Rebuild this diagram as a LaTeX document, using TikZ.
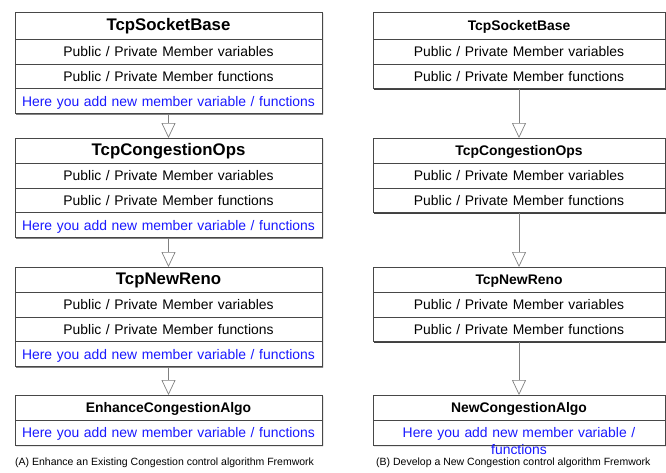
\documentclass[tikz,border=0pt]{standalone}
\usepackage{fontspec}
\setmainfont{Liberation Sans}
\usetikzlibrary{positioning, shapes.multipart, arrows.meta, shadows}
\definecolor{rowline}{rgb}{0.28,0.28,0.28}
\definecolor{addblue}{rgb}{0.1,0.1,1.0}
\newcommand{\hdstrut}{\rule[-8pt]{0pt}{26pt}}
\newcommand{\rwstrut}{\rule[-7pt]{0pt}{24pt}}

\begin{document}
\begin{tikzpicture}[
    x=1pt, y=-1pt,
    cls/.style={
        rectangle split,
        rectangle split parts=4,
        draw=rowline,
        line width=0.8pt,
        fill=white,
        drop shadow={shadow xshift=1pt, shadow yshift=-1pt, fill=black!75, opacity=1},
        inner xsep=0pt, inner ysep=0pt,
        align=center,
        anchor=north,
        font=\fontsize{13.9}{16.5}\selectfont,
        text width=307pt,
    },
    clsb/.style={cls, rectangle split parts=3, text width=292pt},
    inh/.style={-{Triangle[open, length=15pt, width=14pt]}, draw=black!50, line width=0.7pt},
    caption/.style={anchor=west, inner sep=0pt, font=\fontsize{10.5}{12}\selectfont}
]
\useasboundingbox (0,0) rectangle (666,472);

% (A) left column: extend an existing algorithm
\node[cls] (SockA) at (168.5,12) {%
  \hdstrut{\fontsize{16.8}{19}\selectfont\bfseries TcpSocketBase}\nodepart{second}%
  \rwstrut Public / Private Member variables\nodepart{third}%
  \rwstrut Public / Private Member functions\nodepart{fourth}%
  \rwstrut\textcolor{addblue}{Here you add new member variable / functions}%
};
\node[cls] (OpsA) at (168.5,138) {%
  \rwstrut{\fontsize{16.8}{19}\selectfont\bfseries TcpCongestionOps}\nodepart{second}%
  \rwstrut Public / Private Member variables\nodepart{third}%
  \rwstrut Public / Private Member functions\nodepart{fourth}%
  \rwstrut\textcolor{addblue}{Here you add new member variable / functions}%
};
\node[cls] (RenoA) at (168.5,267) {%
  \rwstrut{\fontsize{16.8}{19}\selectfont\bfseries TcpNewReno}\nodepart{second}%
  \rwstrut Public / Private Member variables\nodepart{third}%
  \rwstrut Public / Private Member functions\nodepart{fourth}%
  \rwstrut\textcolor{addblue}{Here you add new member variable / functions}%
};
\node[cls, rectangle split parts=2] (EnhA) at (168.5,395) {%
  \rwstrut\textbf{EnhanceCongestionAlgo}\nodepart{second}%
  \rwstrut\textcolor{addblue}{Here you add new member variable / functions}%
};

% (B) right column: a new algorithm
\node[clsb] (SockB) at (519,12) {%
  \hdstrut\textbf{TcpSocketBase}\nodepart{second}%
  \rwstrut Public / Private Member variables\nodepart{third}%
  \rwstrut Public / Private Member functions%
};
\node[clsb] (OpsB) at (519,138) {%
  \rwstrut\textbf{TcpCongestionOps}\nodepart{second}%
  \rwstrut Public / Private Member variables\nodepart{third}%
  \rwstrut Public / Private Member functions%
};
\node[clsb] (RenoB) at (519,267) {%
  \rwstrut\textbf{TcpNewReno}\nodepart{second}%
  \rwstrut Public / Private Member variables\nodepart{third}%
  \rwstrut Public / Private Member functions%
};
% the text runs out of the bottom row here
\node[clsb, rectangle split parts=2] (NewB) at (519,395) {%
  \rwstrut\textbf{NewCongestionAlgo}\nodepart{second}%
  \rwstrut\smash{\parbox[t]{270pt}{\centering\textcolor{addblue}{Here you add new member variable /\\functions}}}%
};

\node[caption] (capA) at (15,463) {(A) Enhance an Existing Congestion control algorithm Fremwork};
\node[caption] (capB) at (376,463) {(B) Develop a New Congestion control algorithm Fremwork};

\draw[inh] (SockA) -- (OpsA);
\draw[inh] (OpsA) -- (RenoA);
\draw[inh] (RenoA) -- (EnhA);
\draw[inh] (SockB) -- (OpsB);
\draw[inh] (OpsB) -- (RenoB);
\draw[inh] (RenoB) -- (NewB);
\end{tikzpicture}
\end{document}
